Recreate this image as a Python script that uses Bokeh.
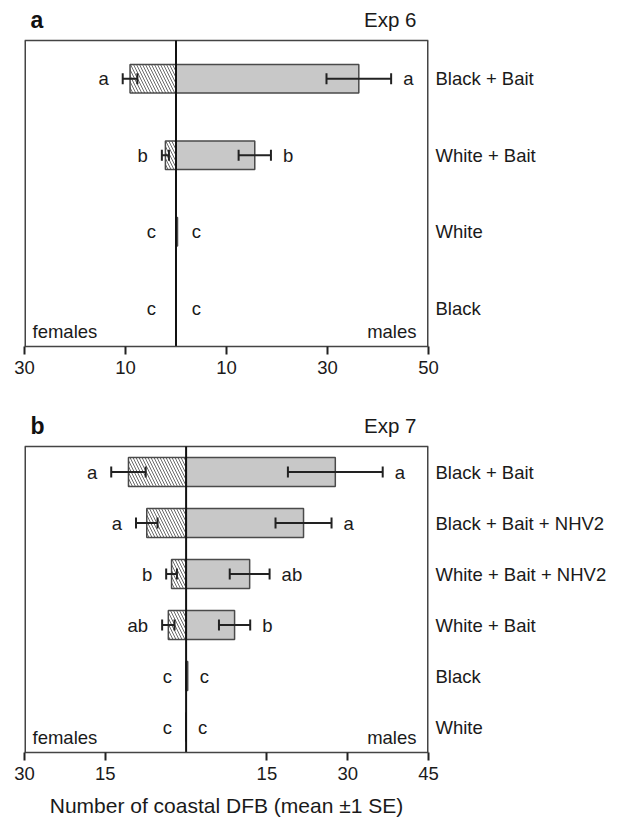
from bokeh.plotting import figure
from bokeh.models import (ColumnDataSource, Whisker, TeeHead, Label,
                          FixedTicker, Range1d)
from bokeh.layouts import column
from bokeh.embed import file_html
from bokeh.resources import INLINE
from bokeh.core.properties import value

# ---------------- data ----------------
cats_a = ["Black + Bait", "White + Bait", "White", "Black"]
fem_mean_a = [9.1, 2.1, 0.0, 0.0]
fem_se_a = [1.45, 0.7, 0.0, 0.0]
male_mean_a = [36.2, 15.6, 0.3, 0.0]
male_se_a = [6.4, 3.2, 0.0, 0.0]
fem_let_a = ["a", "b", "c", "c"]
male_let_a = ["a", "b", "c", "c"]
ticks_a = [-30, -10, 10, 30, 50]
tick_labels_a = ["30", "10", "10", "30", "50"]

cats_b = ["Black + Bait", "Black + Bait + NHV2", "White + Bait + NHV2",
          "White + Bait", "Black", "White"]
fem_mean_b = [10.7, 7.3, 2.7, 3.3, 0.0, 0.0]
fem_se_b = [3.2, 2.0, 1.0, 1.15, 0.0, 0.0]
male_mean_b = [27.7, 21.8, 11.8, 9.0, 0.3, 0.0]
male_se_b = [8.8, 5.2, 3.7, 2.9, 0.0, 0.0]
fem_let_b = ["a", "a", "b", "ab", "c", "c"]
male_let_b = ["a", "a", "ab", "b", "c", "c"]
ticks_b = [-30, -15, 15, 30, 45]
tick_labels_b = ["30", "15", "15", "30", "45"]

FONT = "Liberation Sans"
TXT = "#1a1a1a"
BOX_PX = 306  # height of the boxed plotting area in pixels


def panel(cats, fm, fs, mm, ms, fl, ml, ticks, tlabels, xmin, xmax,
          tag, exp, height, head, bottom, bar_h, zero_pad, xlabel=None):
    n = len(cats)
    ys = list(range(n))
    unit = BOX_PX / n                     # pixels per category
    y_head = -0.5 - head / unit           # top of figure frame (title area)
    p = figure(width=619, height=height, output_backend="svg",
               toolbar_location=None, x_range=Range1d(xmin, xmax),
               y_range=Range1d(n - 0.5, y_head), y_axis_location="right",
               min_border_left=24, min_border_right=191,
               min_border_top=0, min_border_bottom=bottom)
    p.xgrid.visible = False
    p.ygrid.visible = False
    p.outline_line_color = None
    p.background_fill_color = "white"
    p.border_fill_color = "white"

    # bars
    fsrc = ColumnDataSource(dict(y=ys, left=[-v for v in fm], right=[0] * n))
    msrc = ColumnDataSource(dict(y=ys, left=[0] * n, right=mm))
    p.hbar(y="y", left="left", right="right", height=bar_h, source=fsrc,
           fill_color="white", hatch_pattern="left_diagonal_line",
           hatch_color="#6a6a6a", hatch_scale=6, hatch_weight=1,
           line_color="#4a4a4a", line_width=1.5)
    p.hbar(y="y", left="left", right="right", height=bar_h, source=msrc,
           fill_color="#c8c8c8", line_color="#4a4a4a", line_width=1.5)

    # error bars
    fe = [(i, -(m + s), -(m - s)) for i, (m, s) in enumerate(zip(fm, fs)) if s > 0]
    me = [(i, m - s, m + s) for i, (m, s) in enumerate(zip(mm, ms)) if s > 0]
    for rows in (fe, me):
        src = ColumnDataSource(dict(y=[r[0] for r in rows],
                                    lo=[r[1] for r in rows],
                                    hi=[r[2] for r in rows]))
        w = Whisker(source=src, base="y", lower="lo", upper="hi",
                    dimension="width", line_width=2, line_color="#222222",
                    level="overlay",
                    lower_head=TeeHead(size=11, line_width=2, line_color="#222222"),
                    upper_head=TeeHead(size=11, line_width=2, line_color="#222222"))
        p.add_layout(w)

    # box around plotting area (top, left, right) and zero line
    p.segment(x0=[xmin], y0=[-0.5], x1=[xmax], y1=[-0.5],
              line_color="#444444", line_width=1.5)
    p.segment(x0=[xmin, xmax], y0=[-0.5, -0.5], x1=[xmin, xmax],
              y1=[n - 0.5, n - 0.5], line_color="#444444", line_width=3)
    p.segment(x0=[0], y0=[-0.5], x1=[0], y1=[n - 0.5],
              line_color="#111111", line_width=2)

    # letters
    fx = [-max(m + s, zero_pad) for m, s in zip(fm, fs)]
    mx = [max(m + s, zero_pad * 0.6) for m, s in zip(mm, ms)]
    p.text(x=fx, y=ys, text=fl, text_align="right", text_baseline="middle",
           x_offset=-14, text_font=value(FONT), text_font_size="18.5px",
           text_color=TXT)
    p.text(x=mx, y=ys, text=ml, text_align="left", text_baseline="middle",
           x_offset=12, text_font=value(FONT), text_font_size="18.5px",
           text_color=TXT)

    # females / males
    p.add_layout(Label(x=xmin, y=n - 0.5, x_offset=8, y_offset=15,
                       text="females", text_baseline="alphabetic",
                       text_font=FONT, text_font_size="18.5px", text_color=TXT))
    p.add_layout(Label(x=xmax, y=n - 0.5, x_offset=-12, y_offset=15,
                       text="males", text_align="right",
                       text_baseline="alphabetic",
                       text_font=FONT, text_font_size="18.5px", text_color=TXT))

    # panel titles (inside the extended frame, above the box)
    y_tt = -0.5 - 21 / unit
    p.text(x=[xmin], y=[y_tt], text=[tag], x_offset=6,
           text_baseline="alphabetic", text_font=value(FONT),
           text_font_style="bold", text_font_size="23px", text_color="#111111")
    p.text(x=[xmax], y=[y_tt], text=[exp], x_offset=-12, text_align="right",
           text_baseline="alphabetic", text_font=value(FONT),
           text_font_size="20.5px", text_color=TXT)

    # x axis
    xa = p.xaxis[0]
    xa.ticker = FixedTicker(ticks=ticks)
    xa.major_label_overrides = {t: l for t, l in zip(ticks, tlabels)}
    xa.minor_tick_line_color = None
    xa.major_tick_out = 8
    xa.major_tick_in = 0
    xa.major_tick_line_width = 2
    xa.major_tick_line_color = "#222222"
    xa.axis_line_color = "#444444"
    xa.axis_line_width = 1.5
    xa.major_label_standoff = 6
    xa.major_label_text_font = FONT
    xa.major_label_text_font_size = "18.5px"
    xa.major_label_text_color = TXT
    if xlabel:
        xa.axis_label = xlabel
        xa.axis_label_text_font = FONT
        xa.axis_label_text_font_size = "21px"
        xa.axis_label_text_font_style = "normal"
        xa.axis_label_text_color = TXT
        xa.axis_label_standoff = 11

    # right category axis
    ya = p.yaxis[0]
    ya.ticker = FixedTicker(ticks=ys)
    ya.major_label_overrides = {i: c for i, c in enumerate(cats)}
    ya.axis_line_color = None
    ya.major_tick_out = 0
    ya.major_tick_in = 0
    ya.minor_tick_line_color = None
    ya.major_label_standoff = 7
    ya.major_label_text_font = FONT
    ya.major_label_text_font_size = "18.5px"
    ya.major_label_text_color = TXT
    return p


pa = panel(cats_a, fem_mean_a, fem_se_a, male_mean_a, male_se_a, fem_let_a,
           male_let_a, ticks_a, tick_labels_a, -30, 50, "a", "Exp 6",
           height=400, head=40, bottom=54, bar_h=0.375, zero_pad=1.2)
pb = panel(cats_b, fem_mean_b, fem_se_b, male_mean_b, male_se_b, fem_let_b,
           male_let_b, ticks_b, tick_labels_b, -30, 45, "b", "Exp 7",
           height=422, head=46, bottom=70, bar_h=0.57, zero_pad=0.0,
           xlabel="Number of coastal DFB (mean ±1 SE)")

layout = column(pa, pb, spacing=0)
open("out.html", "w").write(file_html(layout, INLINE))
